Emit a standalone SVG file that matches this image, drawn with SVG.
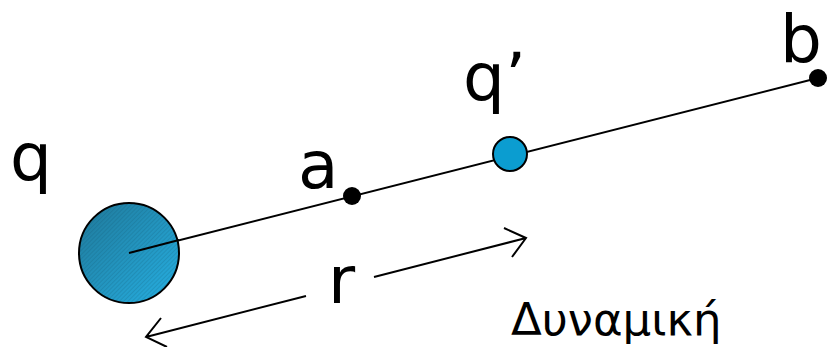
<svg xmlns="http://www.w3.org/2000/svg" width="838" height="347" viewBox="0 0 838 347">
<style>
text{font-family:"DejaVu Sans",Verdana,sans-serif;fill:#000}
.big{font-size:66px}
.ln{stroke:#000;stroke-width:2;fill:none}
</style>
<defs>
<linearGradient id="shade" x1="0" y1="0" x2="1" y2="1">
<stop offset="0" stop-color="#1f7899"/>
<stop offset="1" stop-color="#26b0e3"/>
</linearGradient>
<pattern id="hatch" width="3" height="3" patternUnits="userSpaceOnUse" patternTransform="rotate(45)">
<line x1="0" y1="0" x2="0" y2="3" stroke="#0e4f66" stroke-width="0.8" stroke-opacity="0.45"/>
</pattern>
</defs>
<rect width="838" height="347" fill="#fff"/>
<g id="connectors">
<line class="ln" x1="129" y1="253" x2="818" y2="78"/>
<path class="ln" d="M374 277 L526 238 M504 228 L526 238 L512 257"/>
<path class="ln" d="M306 296 L146 337 M161 318 L146 337 L167 347"/>
</g>
<g id="q">
<circle cx="129" cy="253" r="50" fill="url(#shade)"/>
<circle cx="129" cy="253" r="50" fill="url(#hatch)" stroke="#000" stroke-width="2"/>
<line class="ln" x1="129" y1="253" x2="179" y2="240"/>
<text class="big" x="10" y="180">q</text>
</g>
<g id="a">
<circle cx="352" cy="196" r="9" fill="#000"/>
<text class="big" x="298" y="188">a</text>
</g>
<g id="qprime">
<circle cx="510" cy="154" r="17" fill="#0b9dd0" stroke="#000" stroke-width="2"/>
<text class="big" x="463" y="100">q’</text>
</g>
<g id="b">
<circle cx="818" cy="78" r="9" fill="#000"/>
<text class="big" x="780" y="62">b</text>
</g>
<text class="big" x="328" y="303">r</text>
<text x="511" y="335" font-size="45">Δυναμική</text>
</svg>
